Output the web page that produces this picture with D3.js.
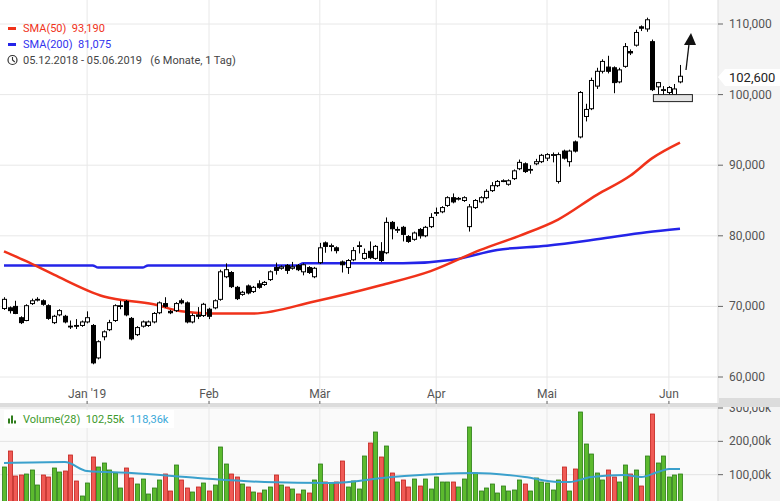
<!DOCTYPE html>
<html><head><meta charset="utf-8">
<script src="https://cdn.jsdelivr.net/npm/d3@7/dist/d3.min.js"></script>
<style>body{margin:0;background:#fff}text{font-family:Roboto,"Liberation Sans",sans-serif;white-space:pre}</style>
</head><body><div id="chart"></div>
<script>
// prices in thousands, one entry per trading day 05.12.2018 - 05.06.2019
const opens = [69.7,69.8,70.0,68.4,68.0,70.4,71.0,70.8,70.1,67.7,68.8,68.6,67.2,67.3,67.3,
  67.8,67.3,62.7,65.7,66.7,68.0,70.1,70.7,68.3,66.0,67.2,67.3,67.8,69.1,70.4,69.3,69.4,70.8,70.5,67.8,68.8,68.7,
  69.6,69.8,71.0,74.2,74.8,72.7,71.7,72.9,72.1,73.2,73.1,73.8,75.5,75.4,75.8,75.4,75.8,74.9,75.5,74.2,
  76.2,79.0,78.6,78.3,76.3,75.5,76.6,78.6,76.8,77.8,76.8,77.8,77.6,81.9,80.9,81.2,79.9,79.5,80.9,80.0,81.3,
  83.3,83.4,84.3,85.4,85.3,85.0,81.3,84.0,84.8,85.4,86.4,87.1,87.8,87.3,88.1,89.5,90.2,89.4,90.2,90.5,
  91.0,91.5,87.7,92.0,90.5,93.3,94.0,96.9,98.0,101.2,103.3,103.9,103.8,101.8,104.0,106.1,107.0,109.6,109.3,107.5,101.1,100.7,
  100.3,100.0,101.8];
const closes = [71.0,69.4,69.0,67.7,70.1,70.8,71.0,70.3,68.3,68.6,69.4,67.8,67.1,67.2,67.8,
  68.4,62.0,65.0,66.4,67.7,70.1,70.1,68.8,65.4,67.0,67.8,67.8,69.0,70.5,70.0,69.1,70.4,70.5,67.8,68.7,68.6,70.3,
  68.6,70.8,74.9,75.2,72.8,71.1,72.0,71.9,72.7,72.7,73.4,74.9,75.1,75.6,75.1,75.6,75.2,75.9,74.8,75.4,
  78.3,78.5,78.6,77.9,75.9,76.5,77.9,78.6,77.5,76.9,78.5,76.5,81.9,81.0,80.9,80.2,79.2,80.4,80.0,81.2,82.6,
  83.3,84.0,85.4,84.8,85.3,85.4,84.1,85.0,85.4,86.3,87.1,87.7,87.8,87.8,89.2,90.4,89.1,89.4,90.5,91.4,
  91.5,91.5,91.5,91.0,92.0,92.0,100.3,97.9,102.0,103.3,104.7,103.3,101.7,103.5,106.8,105.9,108.8,109.4,110.6,100.7,101.7,100.7,
  101.0,100.8,102.6];
const highs = [71.3,70.0,70.8,68.6,70.3,71.1,71.3,71.0,70.3,68.8,69.6,68.8,68.0,68.2,68.0,
  69.3,67.5,65.2,66.6,68.1,70.3,70.8,70.9,68.5,67.2,68.0,68.0,69.2,70.7,71.3,69.5,70.6,71.1,70.7,69.0,69.9,70.5,
  69.8,71.0,75.2,76.1,75.0,72.9,72.2,73.1,72.9,73.7,73.6,75.1,76.2,75.8,76.0,76.3,76.0,76.1,75.7,75.6,
  79.0,79.2,78.9,78.5,76.5,76.7,78.4,79.2,78.2,79.2,78.7,79.1,82.6,82.1,81.3,81.4,80.1,80.6,81.1,81.4,83.2,
  84.0,84.2,85.6,86.0,85.5,85.6,84.5,85.2,85.6,86.6,87.6,87.9,88.0,88.0,89.4,90.8,90.4,90.0,90.9,91.6,
  91.7,91.8,91.8,92.2,92.2,93.5,100.5,98.7,102.4,103.8,105.0,105.5,104.0,103.8,107.3,106.4,109.2,109.8,110.9,107.8,101.8,101.2,
  101.2,101.5,104.2];
const lows = [69.5,69.0,68.9,67.5,67.9,70.2,70.7,70.1,68.1,67.5,68.6,67.6,66.8,66.8,67.1,
  67.6,61.8,62.5,65.2,66.5,67.8,69.6,68.6,65.2,65.8,67.0,67.1,67.6,68.9,69.8,68.9,69.2,70.3,67.6,67.6,68.2,68.5,
  68.2,69.6,70.8,74.0,72.6,70.9,71.5,71.7,71.9,72.5,72.9,73.6,74.5,75.2,74.6,75.2,75.0,74.4,74.6,74.0,
  76.0,77.6,77.8,77.5,74.8,74.6,76.4,77.5,76.6,76.7,76.6,76.3,77.4,79.5,80.4,79.2,79.0,79.3,79.6,79.8,81.1,
  82.8,83.2,84.1,84.6,85.0,84.8,80.6,83.8,84.6,85.2,86.2,86.9,87.6,87.1,87.9,89.3,88.9,88.8,90.0,90.3,
  90.6,90.4,87.4,90.8,89.8,91.8,93.8,96.2,97.8,100.8,103.0,103.0,100.2,101.6,103.8,105.6,106.8,109.0,108.9,100.5,99.9,99.4,
  99.8,99.7,101.6];
// volume in thousands
const volumes = [123,171,96,99,102,114,69,99,93,120,108,111,159,81,36,75,153,123,135,114,105,60,120,90,72,87,42,60,84,102,
  51,129,84,60,48,63,75,51,69,183,132,102,93,72,63,48,45,54,63,99,69,63,57,42,54,45,84,132,78,75,78,141,63,81,57,156,195,228,153,186,
  105,78,84,63,87,66,87,57,93,78,78,78,63,87,243,105,51,60,72,45,66,51,54,84,72,51,90,78,75,54,84,123,51,117,
  288,192,162,105,84,114,93,78,129,102,114,66,156,282,135,156,93,99,102];
// moving averages: [day index, value]
const sma50 = [[0,77.8],[4,76.4],[9,74.5],[18,71.4],[27,70.3],[32,69.3],[37,69.0],[45,69.0],[56,70.7],[68,73.0],
  [77,75.0],[86,78.0],[93,80.0],[100,82.3],[107,85.8],[113,88.5],[117,91.0],[122,93.2]];
const sma200 = [[0,75.8],[16,75.8],[17,75.5],[25,75.5],[26,75.8],[53,75.8],[54,76.1],[72,76.1],[81,76.6],[89,78.0],
  [98,78.6],[107,79.5],[116,80.5],[122,81.0]];
const volAvg = [[0,135],[11,138],[15,111],[23,105],[35,90],[47,78],[59,75],[70,93],[85,105],[94,93],[100,78],
  [102,78],[106,93],[112,99],[115,93],[118,108],[120,117],[122,117]];
const monthTicks = [[15,"Jan '19"],[37,"Feb"],[57,"Mär"],[78,"Apr"],[98,"Mai"],[120,"Jun"]];
const priceTicks = [60,70,80,90,100,110];
const volTicks = [100,200,300];

const W = 780, H = 501, plotR = 718;
const svg = d3.select("#chart").append("svg").attr("width", W).attr("height", H);

const x = d3.scaleLinear().domain([0, 122]).range([4, 680]);
const y = d3.scaleLinear().domain([60, 110]).range([377, 24]);
const yv = d3.scaleLinear().domain([0, 300]).range([508, 408]);

// axis panel background
svg.append("rect").attr("x", plotR).attr("y", 0).attr("width", W - plotR).attr("height", H).attr("fill", "#f4f4f4");
svg.append("rect").attr("x", 0).attr("y", 407).attr("width", plotR).attr("height", H - 407).attr("fill", "#fafafa");
svg.append("rect").attr("x", 0).attr("y", 403).attr("width", W).attr("height", 4).attr("fill", "#dcdcdc");
svg.append("line").attr("x1", plotR).attr("x2", plotR).attr("y1", 0).attr("y2", H).attr("stroke", "#ddd");

// grid
svg.append("g").selectAll("line").data(priceTicks).join("line")
  .attr("x1", 0).attr("x2", plotR).attr("y1", d => y(d)).attr("y2", d => y(d)).attr("stroke", "#e8e8e8");
svg.append("g").selectAll("line").data(volTicks).join("line")
  .attr("x1", 0).attr("x2", plotR).attr("y1", d => yv(d)).attr("y2", d => yv(d)).attr("stroke", "#e3e3e3");
svg.append("g").selectAll("line").data(monthTicks).join("line")
  .attr("x1", d => x(d[0])).attr("x2", d => x(d[0])).attr("y1", 0).attr("y2", H).attr("stroke", "#e8e8e8");

// right axes
const fmtP = d3.format(",.0f");
const pa = svg.append("g");
pa.selectAll("line").data(priceTicks).join("line")
  .attr("x1", plotR).attr("x2", plotR + 5).attr("y1", d => y(d)).attr("y2", d => y(d)).attr("stroke", "#666");
pa.selectAll("text").data(priceTicks).join("text")
  .attr("x", 729).attr("y", d => y(d) + 4).attr("font-size", 12).attr("fill", "#555").text(d => fmtP(d * 1000));
const va = svg.append("g");
va.selectAll("line").data(volTicks).join("line")
  .attr("x1", plotR).attr("x2", plotR + 5).attr("y1", d => yv(d)).attr("y2", d => yv(d)).attr("stroke", "#666");
va.selectAll("text").data(volTicks).join("text")
  .attr("x", 729).attr("y", d => yv(d) + 4).attr("font-size", 12).attr("fill", "#555").text(d => d + ",00k");
svg.append("rect").attr("x", plotR + 1).attr("y", 398).attr("width", 70).attr("height", 9).attr("fill", "#dcdcdc");

// month labels
svg.append("g").selectAll("text").data(monthTicks).join("text")
  .attr("x", d => x(d[0])).attr("y", 398).attr("text-anchor", "middle").attr("font-size", 12).attr("fill", "#555").text(d => d[1]);
svg.append("g").selectAll("line").data(monthTicks).join("line")
  .attr("x1", d => x(d[0])).attr("x2", d => x(d[0])).attr("y1", 401).attr("y2", 404).attr("stroke", "#666");

// moving average lines
const ln = d3.line().x(d => x(d[0])).y(d => y(d[1])).curve(d3.curveMonotoneX);
svg.append("path").attr("d", ln(sma200)).attr("fill", "none").attr("stroke", "#2424e8").attr("stroke-width", 2.5);
svg.append("path").attr("d", ln(sma50)).attr("fill", "none").attr("stroke", "#f0321a").attr("stroke-width", 2.5);

// candles
const idx = d3.range(opens.length);
const cw = 4;
const cg = svg.append("g");
cg.selectAll("line").data(idx).join("line")
  .attr("x1", i => Math.round(x(i)) + 0.5).attr("x2", i => Math.round(x(i)) + 0.5)
  .attr("y1", i => y(highs[i])).attr("y2", i => y(lows[i])).attr("stroke", "#000");
cg.selectAll("rect").data(idx).join("rect")
  .attr("x", i => Math.round(x(i)) + 0.5 - cw / 2)
  .attr("y", i => y(Math.max(opens[i], closes[i])))
  .attr("width", cw)
  .attr("height", i => Math.max(0.8, Math.abs(y(opens[i]) - y(closes[i]))))
  .attr("fill", i => closes[i] >= opens[i] ? "#fff" : "#000")
  .attr("stroke", "#000").attr("stroke-width", 1);

// annotation box and arrow
svg.append("rect").attr("x", x(117.2)).attr("y", y(100)).attr("width", 39).attr("height", 7)
  .attr("fill", "#e4e4e4").attr("stroke", "#222");
svg.append("line").attr("x1", 686).attr("y1", 70).attr("x2", 689).attr("y2", 44).attr("stroke", "#111").attr("stroke-width", 1.3);
svg.append("path").attr("d", "M684,45 L696,45 L691,33 Z").attr("fill", "#111");

// last price tag
svg.append("path").attr("d", "M718,77 L725,69 L780,69 L780,86 L725,86 Z").attr("fill", "#fff");
svg.append("text").attr("x", 729).attr("y", 82).attr("font-size", 13).attr("fill", "#222").text(fmtP(closes[122] * 1000));

// volume bars
const vg = svg.append("g");
vg.selectAll("rect").data(idx).join("rect")
  .attr("x", i => Math.round(x(i)) + 0.5 - cw / 2).attr("y", i => yv(volumes[i]))
  .attr("width", cw).attr("height", i => H + 2 - yv(volumes[i]))
  .attr("fill", i => closes[i] >= opens[i] ? "#5cba2e" : "#f05a55")
  .attr("stroke", i => closes[i] >= opens[i] ? "#2a7d14" : "#c2221c").attr("stroke-width", 0.8);
const lv = d3.line().x(d => x(d[0])).y(d => yv(d[1])).curve(d3.curveMonotoneX);
svg.append("path").attr("d", lv(volAvg)).attr("fill", "none").attr("stroke", "#3aa0cc").attr("stroke-width", 2);

// volume legend
svg.append("rect").attr("x", 4).attr("y", 410).attr("width", 170).attr("height", 18).attr("fill", "#fff").attr("opacity", 0.9);
[[8, 5], [11, 8], [14, 3]].forEach(b => svg.append("rect").attr("x", b[0]).attr("y", 424 - b[1] - 0.5).attr("width", 2).attr("height", b[1]).attr("fill", "#2f7d1c"));
const vt = svg.append("text").attr("x", 23).attr("y", 423).attr("font-size", 11);
vt.append("tspan").attr("fill", "#3e9a2c").text("Volume(28)  102,55k  ");
vt.append("tspan").attr("fill", "#3aa8d8").text("118,36k");

// top legend
svg.append("rect").attr("x", 8).attr("y", 27).attr("width", 8).attr("height", 3).attr("fill", "#f0321a");
svg.append("text").attr("x", 23).attr("y", 32).attr("font-size", 11).attr("fill", "#f0321a").text("SMA(50)  93,190");
svg.append("rect").attr("x", 8).attr("y", 43).attr("width", 8).attr("height", 3).attr("fill", "#2424e8");
svg.append("text").attr("x", 23).attr("y", 48).attr("font-size", 11).attr("fill", "#3333ee").text("SMA(200)  81,075");
svg.append("circle").attr("cx", 12.5).attr("cy", 60).attr("r", 4.5).attr("fill", "none").attr("stroke", "#333").attr("stroke-width", 1.2);
svg.append("path").attr("d", "M12.5,57 L12.5,60 L14.8,62").attr("fill", "none").attr("stroke", "#333").attr("stroke-width", 1.1);
svg.append("text").attr("x", 23).attr("y", 64).attr("font-size", 11).attr("fill", "#444")
  .text("05.12.2018 - 05.06.2019   (6 Monate, 1 Tag)");
</script></body></html>
